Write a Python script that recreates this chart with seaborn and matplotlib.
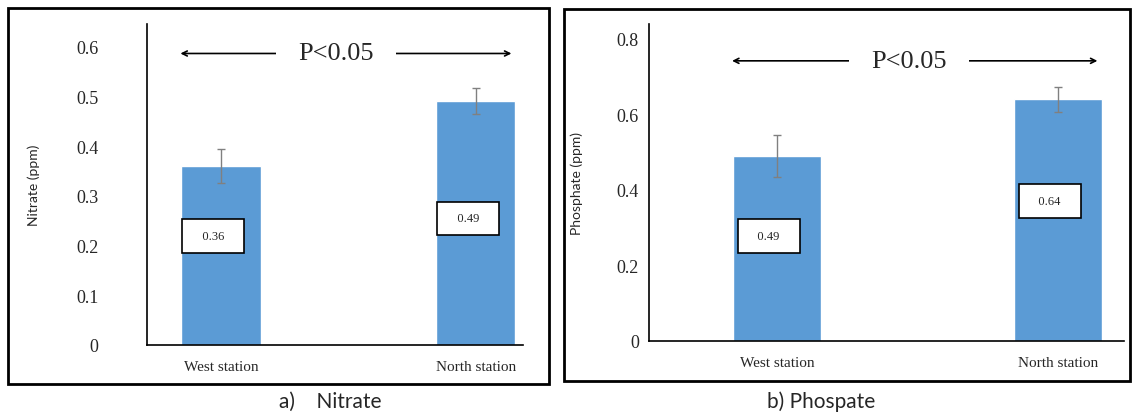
import pandas as pd
import matplotlib.pyplot as plt
import seaborn as sns
from matplotlib.patches import Rectangle

# data
stations = ['West station', 'North station']
nitrate = [0.36, 0.49]
nitrate_err = [0.034, 0.026]
phosphate = [0.49, 0.64]
phosphate_err = [0.055, 0.033]
nitrate_ticks = [0, 0.1, 0.2, 0.3, 0.4, 0.5, 0.6]
nitrate_ticklabels = ['0', '0.1', '0.2', '0.3', '0.4', '0.5', '0.6']
phosphate_ticks = [0, 0.2, 0.4, 0.6, 0.8]
phosphate_ticklabels = ['0', '0.2', '0.4', '0.6', '0.8']
p_text = 'P<0.05'

sns.set_theme(style='white')
plt.rcParams['font.family'] = ['Liberation Serif', 'DejaVu Serif']

bar_col = '#5B9BD5'
fig = plt.figure(figsize=(11.32, 4.14), dpi=100)

# outer frames round each panel
fig.add_artist(Rectangle((0.007, 0.070), 0.478, 0.908, transform=fig.transFigure,
                         fill=False, lw=2, ec='black'))
fig.add_artist(Rectangle((0.498, 0.077), 0.500, 0.899, transform=fig.transFigure,
                         fill=False, lw=2, ec='black'))

ax1 = fig.add_axes([0.1299, 0.1643, 0.332, 0.775])
ax2 = fig.add_axes([0.573, 0.174, 0.420, 0.766])


def draw(ax, vals, errs, ticks, ticklabels, ylim, xlim, ylabel, label_y, arrow_y,
         ytick_pad, ylab_x, text_x):
    df = pd.DataFrame({'station': stations, 'value': vals})
    sns.barplot(data=df, x='station', y='value', color=bar_col, width=0.31,
                saturation=1, errorbar=None, ax=ax)
    ax.errorbar(range(len(vals)), vals, yerr=errs, fmt='none', ecolor='#808080',
                elinewidth=1, capsize=3, capthick=1)
    ax.set_ylim(*ylim)
    ax.set_xlim(*xlim)
    ax.set_yticks(ticks)
    ax.set_yticklabels(ticklabels, fontsize=13)
    ax.tick_params(axis='y', length=0, pad=ytick_pad)
    ax.tick_params(axis='x', length=0, pad=11, labelsize=11)
    ax.set_xlabel('')
    ax.set_ylabel(ylabel, fontsize=10, family=['Lato', 'DejaVu Sans'])
    ax.yaxis.set_label_coords(ylab_x, 0.5)
    for s in ['top', 'right']:
        ax.spines[s].set_visible(False)
    for s in ['left', 'bottom']:
        ax.spines[s].set_color('black')
        ax.spines[s].set_linewidth(1.2)
    # value boxes
    for i, v in enumerate(vals):
        ax.text(i - 0.03, label_y[i], f'   {v:.2f}   ', ha='center', va='center',
                fontsize=9,
                bbox=dict(boxstyle='square,pad=0.85', fc='white', ec='black', lw=1.2))
    # significance arrow
    ax.annotate('', xy=(-0.17, arrow_y), xytext=(1.15, arrow_y),
                arrowprops=dict(arrowstyle='<->', color='black', lw=1.2,
                                mutation_scale=9))
    ax.text(text_x, arrow_y, p_text, ha='center', va='center', fontsize=19,
            bbox=dict(fc='white', ec='none', pad=16))


draw(ax1, nitrate, nitrate_err, nitrate_ticks, nitrate_ticklabels, (0, 0.645),
     (-0.29, 1.184), 'Nitrate (ppm)', [0.219, 0.255], 0.586, 35, -0.285, 0.45)
draw(ax2, phosphate, phosphate_err, phosphate_ticks, phosphate_ticklabels, (0, 0.84),
     (-0.457, 1.235), 'Phosphate (ppm)', [0.278, 0.371], 0.742, 7, -0.138, 0.47)

fig.text(330 / 1132, 1 - 402 / 414, 'a)    Nitrate', ha='center', va='center',
         fontsize=15, family=['Lato', 'DejaVu Sans'])
fig.text(821 / 1132, 1 - 402 / 414, 'b) Phospate', ha='center', va='center',
         fontsize=15, family=['Lato', 'DejaVu Sans'])

fig.savefig('out.png', dpi=100)
